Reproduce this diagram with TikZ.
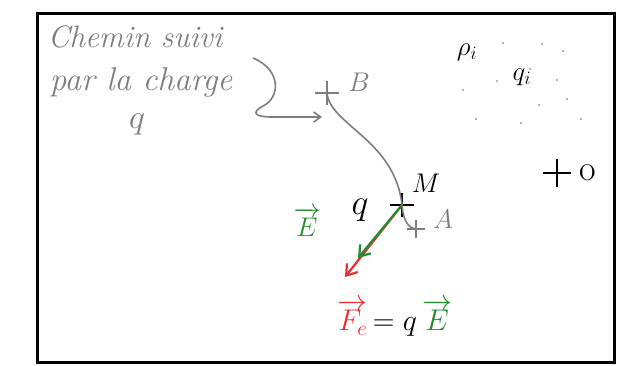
\RequirePackage{fix-cm}
\documentclass[tikz,border=0pt]{standalone}
\usepackage{amsmath,amssymb}
\usetikzlibrary{arrows.meta, shapes.misc}
\definecolor{crayon}{RGB}{125,125,125}
\definecolor{vert}{RGB}{35,140,45}
\definecolor{rouge}{RGB}{235,45,45}

\begin{document}
\begin{tikzpicture}[x=1pt, y=-1pt,
  ecrit/.style={crayon, font=\fontsize{31}{34}\selectfont\itshape},
  lettre/.style={font=\fontsize{27}{30}\selectfont},
  croix/.style={cross out, draw, rotate=45, minimum size=15pt, inner sep=0pt, line width=1.4pt},
  chemin/.style={crayon, line width=1.6pt},
  fleche/.style={line width=2.2pt, -{Straight Barb[length=10pt, width=14pt]}}]
  \useasboundingbox (0,0) rectangle (617,365);
  \draw[line width=3pt] (37,13) rectangle (614,362);

  % Legende du chemin
  \node[ecrit] (chemin1) at (135,37) {Chemin suivi};
  \node[ecrit, font=\fontsize{33}{36}\selectfont\itshape] (chemin2) at (141,82) {par la charge};
  \node[ecrit, font=\fontsize{34}{36}\selectfont, inner sep=1pt] (chemin3) at (137,124) {$q$};
  \coordinate (accolade) at (253,58);
  \coordinate (bout) at (322,117);
  \draw[chemin, -{Straight Barb[length=7pt, width=10pt]}] (accolade)
    .. controls (282,70) and (280,98) .. (263,106)
    .. controls (250,113) and (256,117) .. (272,117) -- (bout);

  % Chemin de B a A
  \node[croix, crayon] (B) at (327,93) {};
  \node[croix] (M) at (402,205) {};
  \node[croix, crayon, minimum size=12pt] (A) at (416,229) {};
  \draw[chemin] (B.center) .. controls (330,125) and (395,140) .. (M.center)
    .. controls (403,218) and (407,228) .. (A.center);
  \node[lettre, crayon] (nomB) at (359,82) {$B$};
  \node[lettre] (nomM) at (426,183) {$M$};
  \node[lettre, crayon] (nomA) at (443,219) {$A$};
  \node[lettre, font=\fontsize{36}{40}\selectfont] (q) at (360,210) {$q$};

  % Champ et force
  \coordinate (boutF) at (345,277);
  \coordinate (boutE) at (358,258);
  \draw[fleche, rouge] (M.center) -- (boutF);
  \draw[fleche, vert] (M.center) -- (boutE);
  \node[lettre, vert] (E) at (307,222) {$\overrightarrow{E}$};
  \node[lettre, font=\fontsize{30}{34}\selectfont] (force) at (395,318)
    {\textcolor{rouge}{$\overrightarrow{F_e}$}$\,=q\,$\textcolor{vert}{$\overrightarrow{E}$}};

  % Distribution de charges
  \node[lettre] (rho) at (467,52) {$\rho_i$};
  \node[lettre] (qi) at (522,77) {$q_i$};
  \foreach \x/\y in {503/43, 542/44, 563/51, 463/90, 497/81, 530/69,
                     557/80, 567/99, 539/105, 476/119, 521/123, 581/119}
    \fill[crayon!80] (\x,\y) circle (1.2pt);

  % Origine
  \node[croix, minimum size=18pt] (croixO) at (557,173) {};
  \node[lettre, font=\fontsize{36}{38}\selectfont] (O) at (588,173) {o};
\end{tikzpicture}
\end{document}
